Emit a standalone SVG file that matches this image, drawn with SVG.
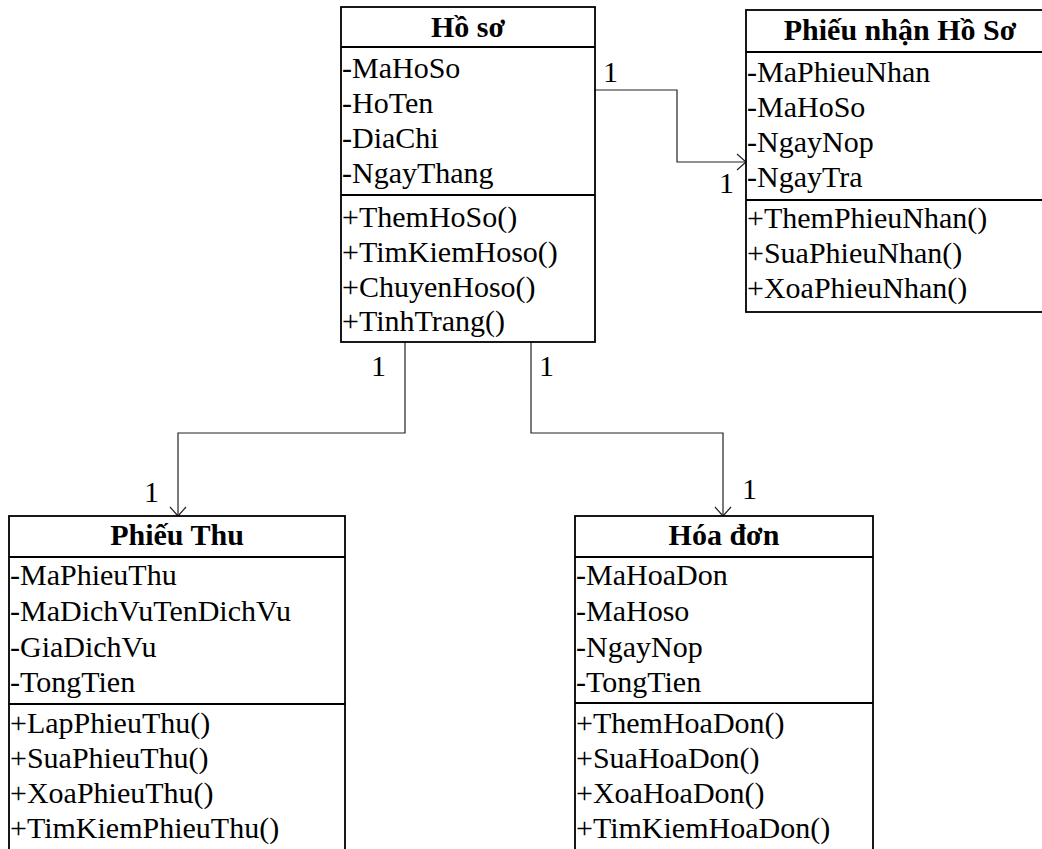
<svg xmlns="http://www.w3.org/2000/svg" width="1042" height="849" viewBox="0 0 1042 849">
  <style>
    .box { fill: #ffffff; stroke: #000000; stroke-width: 1.8; }
    .sep { stroke: #000000; stroke-width: 1.8; }
    .title { font-family: "Liberation Serif", "Times New Roman", serif; font-size: 30px; font-weight: bold; text-anchor: middle; fill: #000; }
    .item { font-family: "Liberation Serif", "Times New Roman", serif; font-size: 30px; fill: #000; }
    .edge { fill: none; stroke: #222222; stroke-width: 1.2; }
    .mult { font-family: "Liberation Serif", "Times New Roman", serif; font-size: 30px; fill: #000; }
  </style>
  <defs>
    <marker id="open-arrow" markerWidth="12" markerHeight="18" refX="10" refY="9" orient="auto" markerUnits="userSpaceOnUse">
      <path d="M1,1 L10,9 L1,17" fill="none" stroke="#222222" stroke-width="1.2"/>
    </marker>
  </defs>
  <rect width="1042" height="849" fill="#ffffff"/>

  <!-- connectors -->
  <g id="connectors">
    <path class="edge" d="M595,90 H677 V162 H746" marker-end="url(#open-arrow)"/>
    <path class="edge" d="M405,342 V433 H178 V516" marker-end="url(#open-arrow)"/>
    <path class="edge" d="M531,342 V433 H723 V516" marker-end="url(#open-arrow)"/>
    <text class="mult" x="603" y="82">1</text>
    <text class="mult" x="719" y="193">1</text>
    <text class="mult" x="371" y="376">1</text>
    <text class="mult" x="539" y="376">1</text>
    <text class="mult" x="144" y="502">1</text>
    <text class="mult" x="742" y="499">1</text>
  </g>

  <!-- class: Hồ sơ -->
  <g id="ho-so">
    <rect class="box" x="341" y="7" width="254" height="335"/>
    <line class="sep" x1="341" y1="47" x2="595" y2="47"/>
    <line class="sep" x1="341" y1="195" x2="595" y2="195"/>
    <text class="title" x="468" y="37">Hồ sơ</text>
    <text class="item" x="342" y="78">-MaHoSo</text>
    <text class="item" x="342" y="113">-HoTen</text>
    <text class="item" x="342" y="148">-DiaChi</text>
    <text class="item" x="342" y="183">-NgayThang</text>
    <text class="item" x="342" y="227">+ThemHoSo()</text>
    <text class="item" x="342" y="262">+TimKiemHoso()</text>
    <text class="item" x="342" y="297">+ChuyenHoso()</text>
    <text class="item" x="342" y="331">+TinhTrang()</text>
  </g>

  <!-- class: Phiếu nhận Hồ Sơ -->
  <g id="phieu-nhan">
    <rect class="box" x="746" y="10" width="308" height="302"/>
    <line class="sep" x1="746" y1="52" x2="1054" y2="52"/>
    <line class="sep" x1="746" y1="200" x2="1054" y2="200"/>
    <text class="title" x="900" y="40">Phiếu nhận Hồ Sơ</text>
    <text class="item" x="747" y="82">-MaPhieuNhan</text>
    <text class="item" x="747" y="117">-MaHoSo</text>
    <text class="item" x="747" y="152">-NgayNop</text>
    <text class="item" x="747" y="187">-NgayTra</text>
    <text class="item" x="747" y="228">+ThemPhieuNhan()</text>
    <text class="item" x="747" y="263">+SuaPhieuNhan()</text>
    <text class="item" x="747" y="298">+XoaPhieuNhan()</text>
  </g>

  <!-- class: Phiếu Thu -->
  <g id="phieu-thu">
    <rect class="box" x="9" y="516" width="336" height="350"/>
    <line class="sep" x1="9" y1="557" x2="345" y2="557"/>
    <line class="sep" x1="9" y1="704" x2="345" y2="704"/>
    <text class="title" x="177" y="545">Phiếu Thu</text>
    <text class="item" x="10" y="585">-MaPhieuThu</text>
    <text class="item" x="10" y="621">-MaDichVuTenDichVu</text>
    <text class="item" x="10" y="657">-GiaDichVu</text>
    <text class="item" x="10" y="692">-TongTien</text>
    <text class="item" x="10" y="733">+LapPhieuThu()</text>
    <text class="item" x="10" y="768">+SuaPhieuThu()</text>
    <text class="item" x="10" y="803">+XoaPhieuThu()</text>
    <text class="item" x="10" y="838">+TimKiemPhieuThu()</text>
  </g>

  <!-- class: Hóa đơn -->
  <g id="hoa-don">
    <rect class="box" x="575" y="516" width="298" height="350"/>
    <line class="sep" x1="575" y1="557" x2="873" y2="557"/>
    <line class="sep" x1="575" y1="703" x2="873" y2="703"/>
    <text class="title" x="724" y="545">Hóa đơn</text>
    <text class="item" x="576" y="585">-MaHoaDon</text>
    <text class="item" x="576" y="621">-MaHoso</text>
    <text class="item" x="576" y="657">-NgayNop</text>
    <text class="item" x="576" y="692">-TongTien</text>
    <text class="item" x="576" y="733">+ThemHoaDon()</text>
    <text class="item" x="576" y="768">+SuaHoaDon()</text>
    <text class="item" x="576" y="803">+XoaHoaDon()</text>
    <text class="item" x="576" y="838">+TimKiemHoaDon()</text>
  </g>
</svg>
